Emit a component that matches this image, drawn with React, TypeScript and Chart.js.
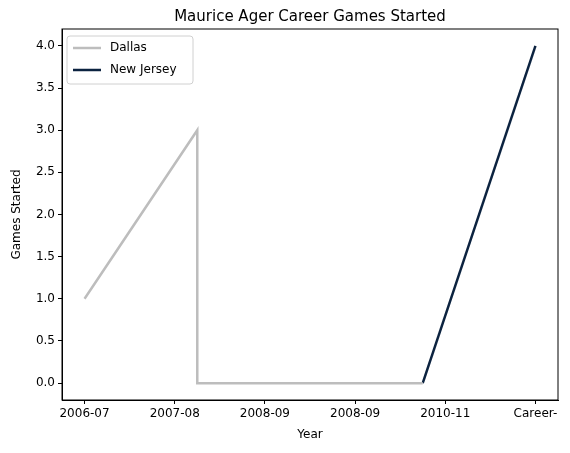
import { useRef, useEffect } from 'react';
import { Chart, registerables } from 'chart.js';

Chart.register(...registerables);

const xLabels = ['2006-07', '2007-08', '2008-09', '2008-09', '2010-11', 'Career-'];
const dallasX = [0, 1, 1, 3];
const dallasY = [1, 3, 0, 0];
const njX = [3, 4];
const njY = [0, 4];
const seriesNames = ['Dallas', 'New Jersey'];
const seriesColors = ['#bdbdbd', '#0c2340'];

const FONT = 'DejaVu Sans, sans-serif';

const framePlugin = {
  id: 'frame',
  afterDraw(chart: any) {
    const { ctx, chartArea: a } = chart;
    ctx.save();
    ctx.strokeStyle = '#000';
    ctx.lineWidth = 1;
    ctx.strokeRect(a.left, a.top, a.right - a.left, a.bottom - a.top);
    // title
    ctx.fillStyle = '#000';
    ctx.font = `15px ${FONT}`;
    ctx.textAlign = 'center';
    ctx.textBaseline = 'alphabetic';
    ctx.fillText('Maurice Ager Career Games Started', (a.left + a.right) / 2, a.top - 8);
    // legend
    const lx = a.left + 5, ly = a.top + 7;
    ctx.fillStyle = 'rgba(255,255,255,0.8)';
    ctx.strokeStyle = '#d0d0d0';
    ctx.beginPath();
    ctx.roundRect(lx, ly, 126, 48, 3);
    ctx.fill();
    ctx.stroke();
    ctx.font = `12px ${FONT}`;
    ctx.textAlign = 'left';
    ctx.textBaseline = 'middle';
    seriesNames.forEach((n, i) => {
      const y = ly + 12 + i * 22;
      ctx.strokeStyle = seriesColors[i];
      ctx.lineWidth = 2.5;
      ctx.beginPath();
      ctx.moveTo(lx + 6, y);
      ctx.lineTo(lx + 34, y);
      ctx.stroke();
      ctx.fillStyle = '#000';
      ctx.fillText(n, lx + 43, y);
    });
    ctx.restore();
  },
};

export default function App() {
  const ref = useRef<HTMLCanvasElement>(null);

  useEffect(() => {
    document.body.style.margin = '0';
    if (!ref.current) return;
    const chart = new Chart(ref.current, {
      type: 'line',
      data: {
        datasets: [
          {
            label: seriesNames[0],
            data: dallasX.map((x, i) => ({ x, y: dallasY[i] })),
            borderColor: seriesColors[0],
            borderWidth: 2.5,
            pointRadius: 0,
            tension: 0,
          },
          {
            label: seriesNames[1],
            data: njX.map((x, i) => ({ x, y: njY[i] })),
            borderColor: seriesColors[1],
            borderWidth: 2.5,
            pointRadius: 0,
            tension: 0,
          },
        ],
      },
      options: {
        animation: false,
        responsive: false,
        layout: { padding: { top: 29, right: 12, left: 10, bottom: 11 } },
        plugins: { legend: { display: false }, tooltip: { enabled: false } },
        scales: {
          x: {
            type: 'linear',
            min: -0.2,
            max: 4.2,
            afterBuildTicks: (s: any) => {
              s.ticks = xLabels.map((_, i) => ({ value: i * 0.8 }));
            },
            afterFit: (s: any) => { s.height = 42; },
            ticks: {
              color: '#000',
              font: { family: FONT, size: 12 },
              maxRotation: 0,
              autoSkip: false,
              callback: (_v: any, i: number) => xLabels[i],
            },
            grid: { drawOnChartArea: false, color: '#000', tickLength: 4 },
            border: { color: '#000' },
            title: { display: true, text: 'Year', color: '#000', font: { family: FONT, size: 12 }, padding: 0 },
          },
          y: {
            type: 'linear',
            min: -0.2,
            max: 4.2,
            afterBuildTicks: (s: any) => {
              s.ticks = [0, 0.5, 1, 1.5, 2, 2.5, 3, 3.5, 4].map(v => ({ value: v }));
            },
            afterFit: (s: any) => { s.width = 52; },
            ticks: {
              color: '#000',
              font: { family: FONT, size: 12 },
              callback: (v: any) => Number(v).toFixed(1),
            },
            grid: { drawOnChartArea: false, color: '#000', tickLength: 4 },
            border: { color: '#000' },
            title: { display: true, text: 'Games Started', color: '#000', font: { family: FONT, size: 12 }, padding: 0 },
          },
        },
      },
      plugins: [framePlugin],
    });
    return () => chart.destroy();
  }, []);

  return <canvas ref={ref} width={570} height={453} style={{ display: 'block' }} />;
}
